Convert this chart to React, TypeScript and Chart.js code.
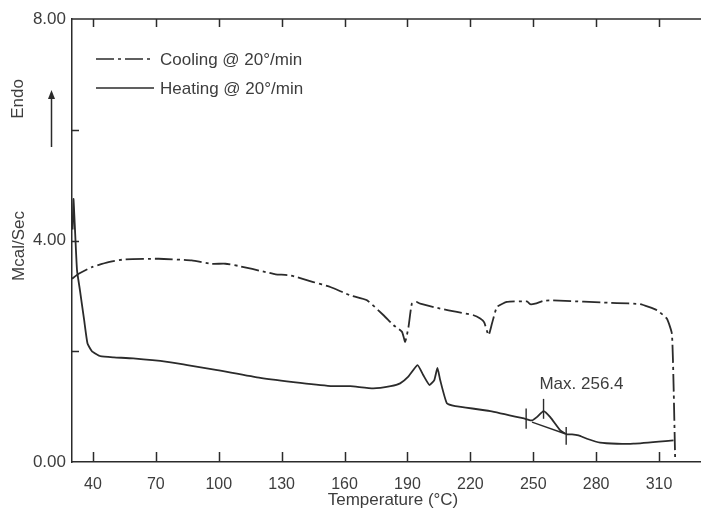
import React, { useEffect, useRef } from "react";
import { Chart, registerables } from "chart.js";

Chart.register(...registerables);

// ---- Data ----
const heatingLabel = "Heating @ 20°/min";
const coolingLabel = "Cooling @ 20°/min";

const heatingT = [30.3, 30.7, 31.3, 32.4, 33.8, 35.8, 37.4, 39.5, 41.5, 43.5, 50, 59.2, 75.4, 85, 99.3, 119.8, 138.9, 154.6, 162.7, 173.7, 182, 186.5, 190.4, 194.8, 197.5, 200.5, 202.8, 204.3, 205.6, 208.8, 212.8, 229.5, 246.2, 249.4, 251.7, 254.9, 258.1, 262.9, 266, 268.5, 271.6, 275.6, 281.9, 290, 297.8, 316.9];
const heatingV = [4.2, 4.75, 4.3, 3.46, 3.1, 2.56, 2.14, 2.0, 1.95, 1.91, 1.89, 1.87, 1.81, 1.75, 1.66, 1.52, 1.43, 1.37, 1.37, 1.33, 1.37, 1.42, 1.54, 1.75, 1.57, 1.39, 1.48, 1.70, 1.48, 1.06, 1.01, 0.92, 0.78, 0.75, 0.81, 0.92, 0.81, 0.57, 0.50, 0.50, 0.48, 0.42, 0.35, 0.33, 0.33, 0.39];

const coolingT = [30.0, 33.2, 39.5, 47.4, 55.4, 71.3, 87.1, 96.6, 103.2, 109.5, 122.4, 127.1, 134.1, 145.1, 153.2, 162.7, 170.7, 178.6, 183.4, 187.4, 188.9, 190.5, 192.1, 194.2, 196.1, 205.6, 213.6, 221.5, 224.7, 226.6, 228.7, 230.3, 232.7, 237.4, 247, 248.5, 250.9, 254.9, 258.1, 289.9, 301, 309, 313.7, 316.1, 316.9, 317.7];
const coolingV = [3.31, 3.40, 3.52, 3.61, 3.66, 3.67, 3.64, 3.58, 3.58, 3.54, 3.43, 3.39, 3.37, 3.25, 3.16, 3.01, 2.92, 2.65, 2.47, 2.35, 2.17, 2.44, 2.86, 2.89, 2.86, 2.77, 2.71, 2.65, 2.59, 2.52, 2.29, 2.50, 2.80, 2.89, 2.90, 2.85, 2.86, 2.91, 2.92, 2.87, 2.85, 2.74, 2.59, 2.32, 1.42, 0.0];

// peak integration marks
const markT = [246.6, 254.9, 265.7];
const markLow = [0.60, 0.78, 0.31];
const markHigh = [0.965, 1.14, 0.63];
const baselineT = [249.4, 265.2];
const baselineV = [0.72, 0.51];
const peakNote = "Max. 256.4";
const peakNoteT = 273;
const peakNoteV = 1.4;

const xTicks = [40, 70, 100, 130, 160, 190, 220, 250, 280, 310];
const yTicks = [0, 2, 4, 6, 8];
const yLabelled = [0, 4, 8];
const xTitle = "Temperature (°C)";
const yTitle = "Mcal/Sec";
const endoText = "Endo";

const INK = "#2b2b2b";
const TEXT = "#3d3d3d";
const FONT = "'Liberation Sans', Arial, Helvetica, sans-serif";
const COOL_DASH = [18, 4, 3, 4];

const pts = (xs: number[], ys: number[]) => xs.map((x, i) => ({ x, y: ys[i] }));

const decor = {
  id: "decor",
  afterDraw(chart: any) {
    const { ctx, chartArea } = chart;
    const xs = chart.scales.x;
    const ys = chart.scales.y;
    ctx.save();
    ctx.strokeStyle = INK;
    ctx.lineWidth = 1.5;
    // top border
    ctx.beginPath();
    ctx.moveTo(chartArea.left, chartArea.top);
    ctx.lineTo(chartArea.right, chartArea.top);
    ctx.stroke();
    // inward ticks
    ctx.beginPath();
    xTicks.forEach((t) => {
      const px = Math.round(xs.getPixelForValue(t)) + 0.5;
      ctx.moveTo(px, chartArea.bottom);
      ctx.lineTo(px, chartArea.bottom - 10);
      ctx.moveTo(px, chartArea.top);
      ctx.lineTo(px, chartArea.top + 8);
    });
    yTicks.forEach((v) => {
      if (v === 0 || v === 8) return;
      const py = Math.round(ys.getPixelForValue(v)) + 0.5;
      ctx.moveTo(chartArea.left, py);
      ctx.lineTo(chartArea.left + 7, py);
    });
    ctx.stroke();

    // axis titles
    ctx.fillStyle = TEXT;
    ctx.font = `17px ${FONT}`;
    ctx.textAlign = "center";
    ctx.textBaseline = "middle";
    ctx.fillText(xTitle, 393, 500);
    ctx.save();
    ctx.translate(19, 246);
    ctx.rotate(-Math.PI / 2);
    ctx.fillText(yTitle, 0, 0);
    ctx.restore();
    ctx.save();
    ctx.translate(18, 99);
    ctx.rotate(-Math.PI / 2);
    ctx.fillText(endoText, 0, 0);
    ctx.restore();

    // Endo arrow
    ctx.beginPath();
    ctx.lineWidth = 1.5;
    ctx.moveTo(51.5, 147);
    ctx.lineTo(51.5, 97);
    ctx.stroke();
    ctx.beginPath();
    ctx.fillStyle = INK;
    ctx.moveTo(51.5, 90);
    ctx.lineTo(48, 99);
    ctx.lineTo(55, 99);
    ctx.closePath();
    ctx.fill();

    // legend
    const items = [
      { y: 59, ds: chart.data.datasets[0] },
      { y: 88, ds: chart.data.datasets[1] },
    ];
    items.forEach((it) => {
      ctx.beginPath();
      ctx.lineWidth = 1.6;
      ctx.strokeStyle = INK;
      ctx.setLineDash(it.ds.borderDash || []);
      ctx.moveTo(96, it.y);
      ctx.lineTo(154, it.y);
      ctx.stroke();
      ctx.setLineDash([]);
      ctx.fillStyle = TEXT;
      ctx.textAlign = "left";
      ctx.fillText(it.ds.label, 160, it.y + 1);
    });

    // peak note
    ctx.textAlign = "center";
    ctx.fillText(peakNote, xs.getPixelForValue(peakNoteT), ys.getPixelForValue(peakNoteV));
    ctx.restore();
  },
};

export default function App() {
  const ref = useRef<HTMLCanvasElement>(null);
  useEffect(() => {
    if (!ref.current) return;
    const markSets = markT.map((t, i) => ({
      label: "mark" + i,
      data: pts([t, t], [markLow[i], markHigh[i]]),
      showLine: true,
      borderColor: INK,
      borderWidth: 1.4,
      pointRadius: 0,
    }));
    const chart = new Chart(ref.current, {
      type: "scatter",
      data: {
        datasets: [
          {
            label: coolingLabel,
            data: pts(coolingT, coolingV),
            showLine: true,
            borderColor: INK,
            borderWidth: 1.8,
            borderDash: COOL_DASH,
            pointRadius: 0,
            tension: 0.15,
          },
          {
            label: heatingLabel,
            data: pts(heatingT, heatingV),
            showLine: true,
            borderColor: INK,
            borderWidth: 1.8,
            pointRadius: 0,
            tension: 0.15,
          },
          {
            label: "baseline",
            data: pts(baselineT, baselineV),
            showLine: true,
            borderColor: INK,
            borderWidth: 1.4,
            pointRadius: 0,
          },
          ...markSets,
        ] as any,
      },
      options: {
        animation: false,
        responsive: false,
        devicePixelRatio: 1,
        layout: { padding: { top: 19, right: 0, left: 0, bottom: 0 } },
        plugins: { legend: { display: false }, tooltip: { enabled: false } },
        scales: {
          x: {
            type: "linear",
            min: 30,
            max: 330,
            afterBuildTicks: (s: any) => {
              s.ticks = xTicks.map((v) => ({ value: v }));
            },
            afterFit: (s: any) => {
              s.height = 51;
            },
            grid: { display: false, drawTicks: false },
            border: { display: true, color: INK, width: 1.5 },
            ticks: {
              color: TEXT,
              font: { size: 16, family: FONT },
              padding: 13,
              maxRotation: 0,
              autoSkip: false,
            },
          },
          y: {
            type: "linear",
            min: 0,
            max: 8,
            afterBuildTicks: (s: any) => {
              s.ticks = yTicks.map((v) => ({ value: v }));
            },
            afterFit: (s: any) => {
              s.width = 72;
            },
            grid: { display: false, drawTicks: false },
            border: { display: true, color: INK, width: 1.5 },
            ticks: {
              color: TEXT,
              font: { size: 17, family: FONT },
              padding: 6,
              callback: (v: any) => (yLabelled.includes(Number(v)) ? Number(v).toFixed(2) : ""),
            },
          },
        },
      },
      plugins: [decor],
    });
    return () => chart.destroy();
  }, []);
  return (
    <div style={{ position: "fixed", left: 0, top: 0, width: 701, height: 513, background: "#ffffff" }}>
      <canvas ref={ref} width={701} height={513} style={{ display: "block" }} />
    </div>
  );
}
